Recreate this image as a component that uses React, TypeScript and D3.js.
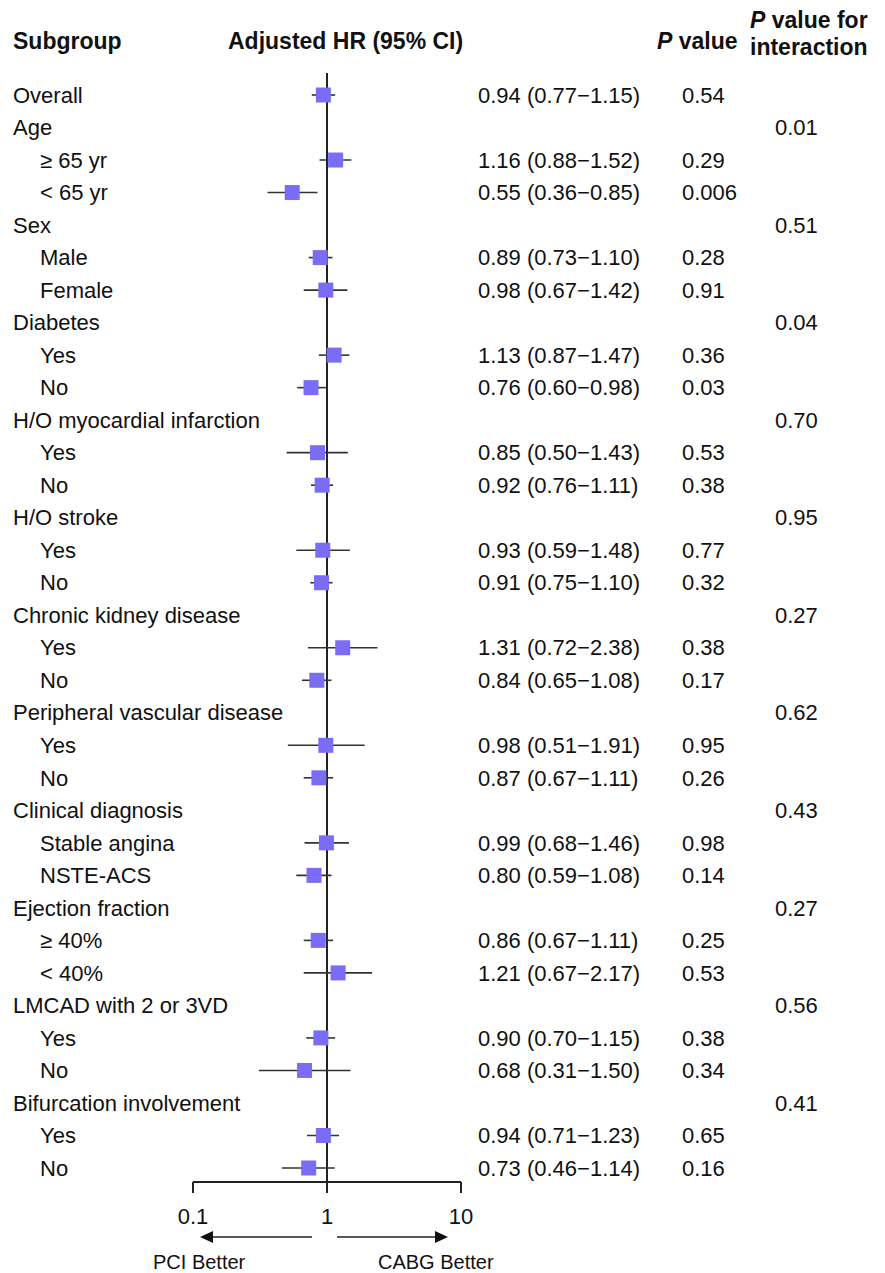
import React from 'react';
import * as d3 from 'd3';

const labels = [
  'Overall', 'Age', '\u2265 65 yr', '< 65 yr', 'Sex', 'Male', 'Female',
  'Diabetes', 'Yes', 'No', 'H/O myocardial infarction', 'Yes', 'No',
  'H/O stroke', 'Yes', 'No', 'Chronic kidney disease', 'Yes', 'No',
  'Peripheral vascular disease', 'Yes', 'No', 'Clinical diagnosis',
  'Stable angina', 'NSTE-ACS', 'Ejection fraction', '\u2265 40%', '< 40%',
  'LMCAD with 2 or 3VD', 'Yes', 'No', 'Bifurcation involvement', 'Yes', 'No',
];

// 0 = group heading, 1 = subgroup
const levels = [0, 0, 1, 1, 0, 1, 1, 0, 1, 1, 0, 1, 1, 0, 1, 1, 0, 1, 1, 0, 1, 1, 0, 1, 1, 0, 1, 1, 0, 1, 1, 0, 1, 1];

const hr = [0.94, null, 1.16, 0.55, null, 0.89, 0.98, null, 1.13, 0.76, null, 0.85, 0.92,
  null, 0.93, 0.91, null, 1.31, 0.84, null, 0.98, 0.87, null, 0.99, 0.80, null, 0.86, 1.21,
  null, 0.90, 0.68, null, 0.94, 0.73];
const lower = [0.77, null, 0.88, 0.36, null, 0.73, 0.67, null, 0.87, 0.60, null, 0.50, 0.76,
  null, 0.59, 0.75, null, 0.72, 0.65, null, 0.51, 0.67, null, 0.68, 0.59, null, 0.67, 0.67,
  null, 0.70, 0.31, null, 0.71, 0.46];
const upper = [1.15, null, 1.52, 0.85, null, 1.10, 1.42, null, 1.47, 0.98, null, 1.43, 1.11,
  null, 1.48, 1.10, null, 2.38, 1.08, null, 1.91, 1.11, null, 1.46, 1.08, null, 1.11, 2.17,
  null, 1.15, 1.50, null, 1.23, 1.14];

const pValues = ['0.54', '', '0.29', '0.006', '', '0.28', '0.91', '', '0.36', '0.03', '', '0.53', '0.38',
  '', '0.77', '0.32', '', '0.38', '0.17', '', '0.95', '0.26', '', '0.98', '0.14', '', '0.25', '0.53',
  '', '0.38', '0.34', '', '0.65', '0.16'];
const pInteraction = ['', '0.01', '', '', '0.51', '', '', '0.04', '', '', '0.70', '', '',
  '0.95', '', '', '0.27', '', '', '0.62', '', '', '0.43', '', '', '0.27', '', '',
  '0.56', '', '', '0.41', '', ''];

const axisTicks = [0.1, 1, 10];

const font = '"Liberation Sans", Arial, sans-serif';

export default function App() {
  const width = 885;
  const height = 1273;

  const x = d3.scaleLog().domain([0.1, 10]).range([193, 461]);
  const y = d3.scalePoint<number>()
    .domain(d3.range(labels.length))
    .range([95, 1168]);

  const axisY = 1182;
  const fs = 22;
  const sq = 15;
  const fmt = (v: number) => v.toFixed(2);

  return (
    <svg width={width} height={height} style={{ position: 'absolute', left: 0, top: 0, background: '#fff' }}
      fontFamily={font}>
      {/* headers */}
      <g fontWeight="bold" fontSize={23} fill="#111">
        <text x={13} y={49}>Subgroup</text>
        <text x={228} y={49}>Adjusted HR (95% CI)</text>
        <text x={657} y={49}><tspan fontStyle="italic">P</tspan> value</text>
        <text x={750} y={28}><tspan fontStyle="italic">P</tspan> value for</text>
        <text x={750} y={55}>interaction</text>
      </g>

      {/* reference line at HR = 1 */}
      <line x1={x(1)} x2={x(1)} y1={73} y2={axisY + 11} stroke="#222" strokeWidth={2} />

      {/* rows */}
      <g fontSize={fs} fill="#111">
        {labels.map((lab, i) => {
          const cy = y(i) as number;
          const h = hr[i];
          const lo = lower[i];
          const hi = upper[i];
          return (
            <g key={i}>
              <text x={levels[i] ? 40 : 13} y={cy} dy="0.35em">{lab}</text>
              {h != null && lo != null && hi != null && (
                <g>
                  <line x1={x(lo)} x2={x(hi)} y1={cy} y2={cy} stroke="#333" strokeWidth={1.6} />
                  <rect x={x(h) - sq / 2} y={cy - sq / 2} width={sq} height={sq} fill="#7b6cf5" />
                  <text x={478} y={cy} dy="0.35em">{`${fmt(h)} (${fmt(lo)}\u2212${fmt(hi)})`}</text>
                </g>
              )}
              {pValues[i] && <text x={682} y={cy} dy="0.35em">{pValues[i]}</text>}
              {pInteraction[i] && <text x={775} y={cy} dy="0.35em">{pInteraction[i]}</text>}
            </g>
          );
        })}
      </g>

      {/* x axis */}
      <g stroke="#222" strokeWidth={2}>
        <line x1={x(0.1)} x2={x(10)} y1={axisY} y2={axisY} />
        {axisTicks.map((t) => (
          <line key={t} x1={x(t)} x2={x(t)} y1={axisY} y2={axisY + 11} />
        ))}
      </g>
      <g fontSize={fs} fill="#111" textAnchor="middle">
        {axisTicks.map((t) => (
          <text key={t} x={x(t)} y={1224}>{String(t)}</text>
        ))}
      </g>

      {/* direction arrows */}
      <g stroke="#222" strokeWidth={1.5}>
        <line x1={312} x2={210} y1={1237} y2={1237} />
        <line x1={337} x2={438} y1={1237} y2={1237} />
      </g>
      <path d="M200,1237 L213,1231 L213,1243 Z" fill="#111" />
      <path d="M448,1237 L435,1231 L435,1243 Z" fill="#111" />
      <g fontSize={20} fill="#111">
        <text x={153} y={1269}>PCI Better</text>
        <text x={378} y={1269}>CABG Better</text>
      </g>
    </svg>
  );
}
